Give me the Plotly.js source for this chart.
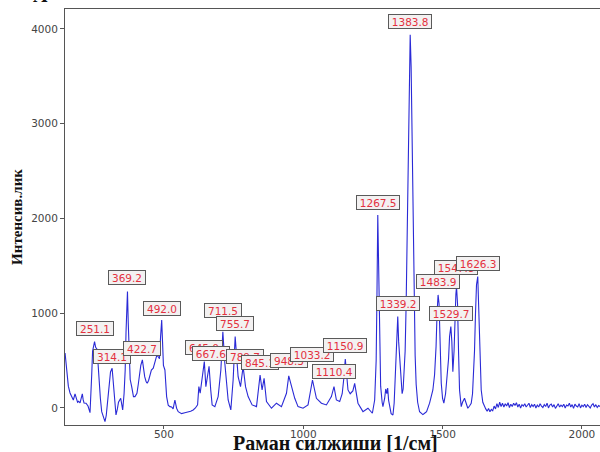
<!DOCTYPE html>
<html>
<head>
<meta charset="utf-8">
<script src="https://cdn.plot.ly/plotly-3.0.1.min.js"></script>
<style>html,body{margin:0;padding:0;background:#fff;}#chart{width:600px;height:452px;}</style>
</head>
<body>
<div id="chart"></div>
<script>
// Raman shift (1/cm) and intensity
const ramanShift = [
145.2,148,152.3,157,163.1,169.2,174.9,181,184,187.1,190,193.6,199,203,207.2,210,213.3,220.4,227.6,234.8,
238,240.9,244,247.3,251.1,255,259.9,264,268.1,272,276.7,283.2,288.5,293,297,301,305,308.3,314.1,318,
322,328,333,337,344.9,349,352,357,361,364,367,369.2,372,375,379,384.3,390.7,396.1,400,403.2,
408,413,417,422.7,426,431,436,440.1,445,449.8,455,461.7,467.7,474.9,479.6,484,488,492,495,498.2,
503.6,509.7,515.4,521.5,527.6,533,539.4,545.5,551.3,563.4,575,587.1,596,605,613,620.8,625.4,630.1,638,645,
650.5,657,662,668,673.1,682.8,694.6,704.3,711.5,718.6,730.5,740.1,748.4,755.7,766.3,774.9,784.2,792.9,802.2,816.5,
832.2,845.1,852.3,859.5,868.1,886,903.9,921.8,939.8,948,955,969.5,981.3,999.3,1017.2,1026.9,1033.2,1047.3,1065.2,1083.1,
1101,1110.4,1119,1130.8,1139.8,1145.2,1150.9,1160.6,1168.5,1178,1184.6,1196.4,1214.4,1232.3,1248.1,1256.3,1261.7,1264.6,1267.5,1270.6,
1274.2,1277.8,1283.1,1286,1292.1,1296,1300,1303,1306.4,1310,1315.4,1321.9,1326.2,1329.8,1333.4,1336.2,1339.2,1342.4,1346,1351.4,
1354.9,1358.5,1362.1,1365.7,1369.3,1372.9,1376.5,1380.1,1383.8,1387.2,1390.8,1394.4,1398,1401.6,1405.2,1410.6,1417.5,1429.4,1435.5,1442.6,
1453.4,1465.2,1471.3,1476.7,1480.2,1483.9,1487.4,1491,1495.3,1500,1504.6,1510.7,1516.8,1521.5,1525.1,1527.2,1529.7,1533.3,1536.9,1541.2,
1544.1,1547.8,1550.1,1553.7,1557.3,1560.9,1567,1571.6,1578.8,1584.2,1590.6,1596.7,1602.8,1607.5,1611.1,1614.6,1618.2,1621.8,1626.3,1630.1,
1634.4,1638.7,1644.4,1650.5,1655,1660,1665,1670,1675,1680,1685,1690,1695,1700,1705,1710,1715,1720,1725,1730,
1735,1740,1745,1750,1755,1760,1765,1770,1775,1780,1785,1790,1795,1800,1805,1810,1815,1820,1825,1830,
1835,1840,1845,1850,1855,1860,1865,1870,1875,1880,1885,1890,1895,1900,1905,1910,1915,1920,1925,1930,
1935,1940,1945,1950,1955,1960,1965,1970,1975,1980,1985,1990,1995,2000,2005,2010,2015,2020,2025,2030,
2035,2040,2045,2050,2055,2060,2065
];
const intensity = [
580,480,330,230,158,120,84,148,110,77,60,70,53,100,148,90,53,50,20,-50,
100,350,600,660,700,640,620,450,250,100,-39,-100,-144,-80,50,200,300,380,419,300,
100,-74,-10,60,102,40,-21,150,400,800,1100,1228,900,500,300,225,120,120,140,155,
250,380,450,507,420,330,280,260,290,350,400,420,489,560,540,520,750,929,700,450,
401,120,30,14,10,-10,84,-3,-39,-60,-50,-45,-35,-21,0,32,225,155,330,489,
225,380,440,190,32,14,120,401,805,472,84,-21,295,753,330,225,436,225,120,32,
14,348,190,313,67,-3,50,14,155,338,250,102,14,-3,32,200,295,102,50,32,
120,225,84,67,150,300,517,190,150,180,260,50,-39,-3,-56,84,500,1200,2037,1500,
600,230,60,14,100,200,150,210,80,14,-60,-74,50,300,650,900,964,700,500,250,
150,200,350,600,1100,1800,2700,3500,3940,3600,2700,1700,1000,550,250,60,-40,-70,-56,-40,
50,190,350,650,1000,1193,1100,700,260,100,50,150,330,520,753,800,858,700,383,600,
950,1200,1280,1100,600,190,14,60,102,40,-3,20,50,150,330,600,1000,1300,1386,1000,
450,190,60,14,-10,-35,-5,-40,-15,-30,20,-10,45,5,60,15,50,10,45,20,
55,5,40,15,50,25,55,10,40,0,35,20,45,10,30,50,5,35,15,40,
0,30,10,45,20,5,35,15,50,0,30,40,10,35,-5,25,45,10,30,15,
40,0,30,20,50,10,35,-5,40,20,10,45,0,30,15,40,5,35,20,0,
30,45,10,35,5,25,15
];
// Peak labels (text and label anchor height)
const peakShift  = [251.1, 314.1, 369.2, 422.7, 492.0, 645.0, 667.6, 711.5, 755.7, 789.7, 845.1, 948.3, 1033.2, 1110.4, 1150.9, 1267.5, 1339.2, 1383.8, 1483.9, 1529.7, 1547.8, 1626.3];
const peakLabelY = [834, 541, 1372, 630, 1055, 639, 580, 1031, 889, 541, 485, 496, 559, 380, 654, 2167, 1098, 4077, 1337, 992, 1478, 1527];
const peakText = peakShift.map(v => v.toFixed(1));
const xTitle = 'Раман силжиши [1/см]';
const yTitle = 'Интенсив.лик';

const trace = {
  x: ramanShift, y: intensity, type: 'scatter', mode: 'lines',
  line: {color: '#2a2ad6', width: 1.1}, hoverinfo: 'skip'
};

const annotations = peakText.map((t, i) => ({
  x: peakShift[i], y: peakLabelY[i], xref: 'x', yref: 'y',
  text: t, showarrow: false,
  font: {family: 'DejaVu Sans, Verdana, sans-serif', size: 10.5, color: '#e3303e'},
  bgcolor: '#f3f1f1', bordercolor: '#5a5a5a', borderwidth: 1, borderpad: 1,
  width: t.length * 6.4 + 2, height: 11
}));
// panel letter, mostly cut off at the top edge as in the reference
annotations.push({
  xref: 'paper', yref: 'paper', x: -0.045, y: 1.0, yshift: 1, xanchor: 'center', yanchor: 'bottom',
  text: '<b>А</b>', showarrow: false,
  font: {family: 'Liberation Serif, serif', size: 20, color: '#111'}
});
// x-axis title placed just under the tick labels
annotations.push({
  xref: 'paper', yref: 'paper', x: 0.505, y: 0, yshift: -18, xanchor: 'center', yanchor: 'middle',
  text: '<b>' + xTitle + '</b>', showarrow: false,
  font: {family: 'Liberation Serif, Times New Roman, serif', size: 20, color: '#111'}
});

const layout = {
  width: 600, height: 452,
  margin: {l: 65, r: 0, t: 9, b: 27, pad: 0},
  paper_bgcolor: '#ffffff', plot_bgcolor: '#ffffff',
  showlegend: false,
  xaxis: {
    range: [145, 2065], tick0: 0, dtick: 500, ticks: 'outside', ticklen: 3, tickcolor: '#555',
    ticklabelstandoff: -4,
    showline: true, linecolor: '#555', linewidth: 1, mirror: true, showgrid: false, zeroline: false,
    tickfont: {family: 'DejaVu Sans, sans-serif', size: 10.5, color: '#444'},
    title: {text: ''}
  },
  yaxis: {
    range: [-180, 4211], tick0: 0, dtick: 1000, ticks: 'outside', ticklen: 4, tickcolor: '#555',
    showline: true, linecolor: '#555', linewidth: 1, mirror: true, showgrid: false, zeroline: false,
    tickfont: {family: 'DejaVu Sans, sans-serif', size: 10.5, color: '#444'},
    title: {text: '<b>' + yTitle + '</b>', standoff: 4,
      font: {family: 'Liberation Serif, Times New Roman, serif', size: 15, color: '#111'}}
  },
  annotations: annotations
};

Plotly.newPlot('chart', [trace], layout, {staticPlot: true, displayModeBar: false});
</script>
</body>
</html>
